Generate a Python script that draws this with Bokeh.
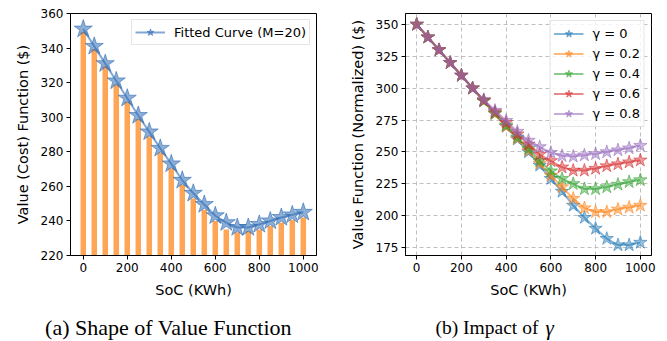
from bokeh.plotting import figure
from bokeh.models import Legend, LegendItem, FixedTicker, Range1d
from bokeh.core.properties import value
from bokeh.layouts import row, column
from bokeh.embed import file_html
from bokeh.resources import INLINE

# ---------------- data ----------------
soc = [0, 50, 100, 150, 200, 250, 300, 350, 400, 450, 500,
       550, 600, 650, 700, 750, 800, 850, 900, 950, 1000]

bar_values = [349.5, 339.5, 329.5, 319, 309, 299, 289, 279.5, 270.5, 261, 253,
              246.5, 240, 235, 233.5, 234, 235, 237, 239, 240.5, 242]
fitted_curve = [351, 341, 331, 321, 311, 301, 291.5, 282, 273, 263.5, 256,
                249.5, 243, 239, 236.2, 236.2, 238, 240, 242, 243.5, 245]

gamma_labels = ["γ = 0", "γ = 0.2", "γ = 0.4", "γ = 0.6", "γ = 0.8"]
g00 = [350, 340, 330, 320, 310, 300, 290, 280, 270, 260, 250,
       239.5, 229, 219, 208, 198.5, 190, 182, 177, 177, 179]
g02 = [350, 340, 330, 320, 310, 300, 290, 280, 270, 260.5, 251,
       241, 231.5, 222.5, 213.5, 206, 203, 203, 205, 206.5, 208]
g04 = [350, 340, 330, 320, 310, 300, 290, 280.5, 271, 261.5, 252.5,
       243, 235, 229, 225, 221, 221, 222.5, 224.5, 226.5, 228]
g06 = [350, 340, 330, 320, 310, 300, 290.5, 281.5, 273, 264, 256,
       248, 243, 238, 235.5, 235.5, 237, 239, 240.5, 242, 243.5]
g08 = [350, 340, 330, 320, 310, 300, 291, 282.5, 274.5, 266, 259,
       254, 249.5, 247, 246.5, 247.5, 248.5, 250, 251.5, 253, 255]
gamma_series = [g00, g02, g04, g06, g08]

x_ticks = [0, 200, 400, 600, 800, 1000]
y_ticks_left = [220, 240, 260, 280, 300, 320, 340, 360]
y_ticks_right = [175, 200, 225, 250, 275, 300, 325, 350]

caption_a = "(a) Shape of Value Function"
caption_b = "(b) Impact of"
caption_b_sym = "γ"

# ---------------- styling helpers ----------------
TAB = ["#1f77b4", "#ff7f0e", "#2ca02c", "#d62728", "#9467bd"]
FONT = "DejaVu Sans"


def style(p, yticks, xlabel, ylabel):
    p.xaxis.ticker = FixedTicker(ticks=x_ticks)
    p.yaxis.ticker = FixedTicker(ticks=yticks)
    for ax in (p.xaxis[0], p.yaxis[0]):
        ax.major_label_text_font = FONT
        ax.major_label_text_font_size = "12px"
        ax.major_label_text_color = "#000000"
        ax.axis_label_text_font = FONT
        ax.axis_label_text_font_size = "14.5px"
        ax.axis_label_text_font_style = "normal"
        ax.axis_label_text_color = "#000000"
        ax.axis_line_color = "#000000"
        ax.major_tick_line_color = "#000000"
        ax.major_tick_out = 4
        ax.major_tick_in = 0
        ax.minor_tick_line_color = None
        ax.major_label_standoff = 3
    p.xaxis.axis_label = xlabel
    p.yaxis.axis_label = ylabel
    p.xaxis.axis_label_standoff = 7
    p.yaxis.axis_label_standoff = 7
    p.outline_line_color = "#000000"
    p.outline_line_width = 1
    p.background_fill_color = "white"
    p.border_fill_color = "white"


def style_legend(lg):
    lg.label_text_font = FONT
    lg.label_text_font_size = "13px"
    lg.label_text_color = "#000000"
    lg.border_line_color = "#cccccc"
    lg.border_line_width = 1
    lg.background_fill_alpha = 0.8
    lg.glyph_width = 30
    lg.label_standoff = 9
    lg.location = "top_right"
    lg.margin = 7


def caption_fig(w):
    c = figure(width=w, height=41, x_range=Range1d(0, w), y_range=Range1d(0, 41),
               x_axis_type=None, y_axis_type=None, output_backend="svg",
               toolbar_location=None, min_border=0)
    c.grid.grid_line_color = None
    c.outline_line_color = None
    c.background_fill_color = "white"
    c.border_fill_color = "white"
    return c


# ---------------- (a) ----------------
p1 = figure(width=341, height=300, x_range=Range1d(-58, 1060), y_range=Range1d(220, 360),
            output_backend="svg", toolbar_location=None,
            min_border_left=70, min_border_right=25, min_border_top=13, min_border_bottom=42)
p1.grid.grid_line_color = None
p1.vbar(x=soc, top=bar_values, bottom=0, width=25, fill_color="#ff7f0e", fill_alpha=0.7,
        line_color=None)
l1 = p1.line(soc, fitted_curve, line_color="#2f6db5", line_width=2, line_alpha=0.6)
s1 = p1.scatter(soc, fitted_curve, marker="star", size=19, fill_color="#2f6db5",
                fill_alpha=0.55, line_color="#2f6db5", line_alpha=0.6, line_width=1)
style(p1, y_ticks_left, "SoC (KWh)", "Value (Cost) Function ($)")
lg1 = Legend(items=[LegendItem(label="Fitted Curve (M=20)", renderers=[l1, s1])])
style_legend(lg1)
lg1.padding = 3
lg1.glyph_height = 18
lg1.label_height = 18
lg1.margin = 6
p1.add_layout(lg1)

c1 = caption_fig(341)
c1.text(x=[168], y=[14], text=[caption_a], text_font=value("Liberation Serif"),
        text_font_size=value("22px"), text_align="center", text_baseline="alphabetic",
        text_color="#000000")

# ---------------- (b) ----------------
p2 = figure(width=326, height=300, x_range=Range1d(-50, 1050), y_range=Range1d(168.8, 358.6),
            output_backend="svg", toolbar_location=None,
            min_border_left=64, min_border_right=16, min_border_top=13, min_border_bottom=42)
p2.grid.grid_line_color = "#b0b0b0"
p2.grid.grid_line_dash = "4 3"
p2.grid.grid_line_alpha = 0.8
items = []
for lab, ys, c in zip(gamma_labels, gamma_series, TAB):
    ln = p2.line(soc, ys, line_color=c, line_width=2, line_alpha=0.55)
    sc = p2.scatter(soc, ys, marker="star", size=14, fill_color=c, fill_alpha=0.45,
                    line_color=c, line_alpha=0.55, line_width=1)
    items.append(LegendItem(label=lab, renderers=[ln, sc]))
style(p2, y_ticks_right, "SoC (KWh)", "Value Function (Normalized) ($)")
lg2 = Legend(items=items)
style_legend(lg2)
lg2.padding = 3
lg2.spacing = 1
lg2.glyph_height = 19
lg2.label_height = 19
p2.add_layout(lg2)

c2 = caption_fig(326)
c2.text(x=[94], y=[14], text=[caption_b], text_font=value("Liberation Serif"),
        text_font_size=value("19.5px"), text_align="left", text_baseline="alphabetic",
        text_color="#000000")
c2.text(x=[204], y=[14], text=[caption_b_sym], text_font=value("Liberation Serif"),
        text_font_style="italic",
        text_font_size=value("21px"), text_align="left", text_baseline="alphabetic",
        text_color="#000000")

layout = column(row(p1, p2), row(c1, c2))
open("out.html", "w").write(file_html(layout, INLINE))
